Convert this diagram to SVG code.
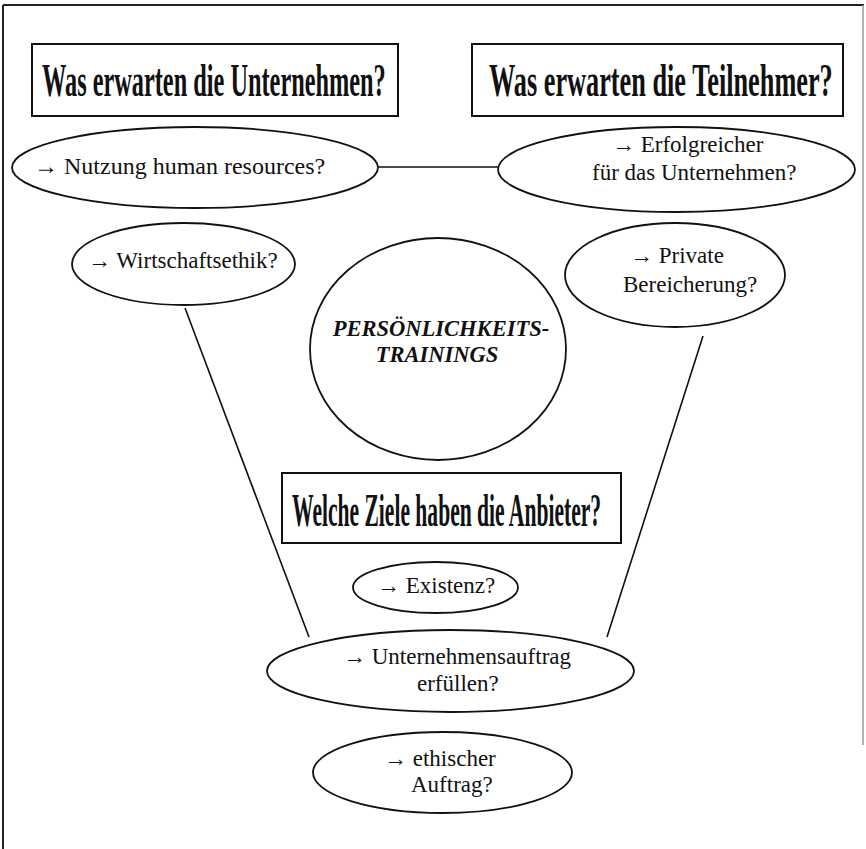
<svg xmlns="http://www.w3.org/2000/svg" width="866" height="849" viewBox="0 0 866 849">
<style>
.bg{fill:#ffffff}
.shape{fill:none;stroke:#111;stroke-width:1.8}
.box{fill:#fff;stroke:#111;stroke-width:2}
.conn{stroke:#111;stroke-width:1.6;fill:none}
.txt{font-family:"Liberation Serif","Times New Roman",serif;font-size:23px;fill:#111}
.head{font-family:"Liberation Serif","Times New Roman",serif;font-size:46px;font-weight:bold;fill:#111}
.center{font-family:"Liberation Serif","Times New Roman",serif;font-size:22.5px;font-weight:bold;font-style:italic;fill:#111}
</style>
<rect class="bg" x="0" y="0" width="866" height="849"/>
<g id="frame">
<line x1="3" y1="5" x2="864" y2="5" stroke="#222" stroke-width="2"/>
<line x1="3" y1="5" x2="3" y2="849" stroke="#222" stroke-width="2"/>
<line x1="863" y1="5" x2="863" y2="745" stroke="#999" stroke-width="1.5"/>
</g>
<g id="connectors">
<line class="conn" x1="378" y1="167" x2="498" y2="167"/>
<line class="conn" x1="185" y1="308" x2="309" y2="637"/>
<line class="conn" x1="703" y1="336" x2="607" y2="637"/>
</g>
<g id="box-unternehmen">
<rect class="box" x="32" y="44" width="366" height="72"/>
<text class="head" transform="translate(42,96) scale(0.55,1)" x="0" y="0" textLength="625" lengthAdjust="spacingAndGlyphs">Was erwarten die Unternehmen?</text>
</g>
<g id="box-teilnehmer">
<rect class="box" x="472" y="44" width="371" height="72"/>
<text class="head" transform="translate(489,96) scale(0.55,1)" x="0" y="0" textLength="625" lengthAdjust="spacingAndGlyphs">Was erwarten die Teilnehmer?</text>
</g>
<g id="node-nutzung">
<ellipse class="shape" cx="195" cy="167.5" rx="183" ry="40.5"/>
<text class="txt" x="34" y="174" style="font-size:24px">→ Nutzung human resources?</text>
</g>
<g id="node-erfolgreicher">
<ellipse class="shape" cx="676.5" cy="169.5" rx="178.5" ry="42.5"/>
<text class="txt" x="612" y="152">→ Erfolgreicher</text>
<text class="txt" x="592" y="180">für das Unternehmen?</text>
</g>
<g id="node-wirtschaftsethik">
<ellipse class="shape" cx="183.5" cy="264" rx="111.5" ry="41"/>
<text class="txt" x="88" y="268">→  Wirtschaftsethik?</text>
</g>
<g id="node-private">
<ellipse class="shape" cx="675" cy="275" rx="110" ry="52"/>
<text class="txt" x="630" y="263">→  Private</text>
<text class="txt" x="623" y="292">Bereicherung?</text>
</g>
<g id="node-trainings">
<ellipse class="shape" cx="438" cy="349" rx="128" ry="111"/>
<text class="center" x="441" y="336" text-anchor="middle">PERSÖNLICHKEITS-</text>
<text class="center" x="437" y="362" text-anchor="middle">TRAININGS</text>
</g>
<g id="box-anbieter">
<rect class="box" x="282" y="473" width="339" height="70"/>
<text class="head" transform="translate(292,526) scale(0.55,1)" x="0" y="0" textLength="562" lengthAdjust="spacingAndGlyphs">Welche Ziele haben die Anbieter?</text>
</g>
<g id="node-existenz">
<ellipse class="shape" cx="435.5" cy="587.5" rx="82.5" ry="25.5"/>
<text class="txt" x="377" y="593">→  Existenz?</text>
</g>
<g id="node-unternehmensauftrag">
<ellipse class="shape" cx="450.5" cy="671" rx="183.5" ry="41"/>
<text class="txt" x="343" y="664">→  Unternehmensauftrag</text>
<text class="txt" x="417" y="691">erfüllen?</text>
</g>
<g id="node-ethisch">
<ellipse class="shape" cx="442.5" cy="772.5" rx="129.5" ry="40.5"/>
<text class="txt" x="384" y="766">→ ethischer</text>
<text class="txt" x="411" y="792">Auftrag?</text>
</g>
</svg>
